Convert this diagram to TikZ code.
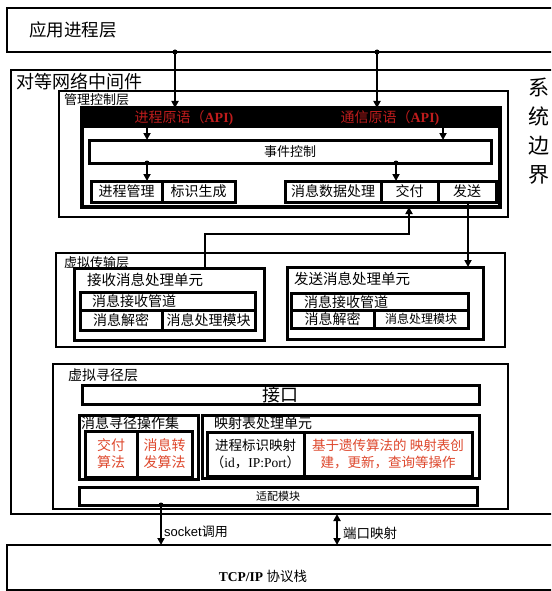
\documentclass[tikz,border=0pt]{standalone}
\usepackage{fontspec}
\setmainfont{Liberation Serif}
\newfontfamily\cjk{Noto Sans CJK SC}
\newfontfamily\lsans{Liberation Sans}
\usetikzlibrary{arrows.meta}
\definecolor{apired}{RGB}{190,28,28}
\definecolor{algred}{RGB}{222,72,45}
\newcommand\mybox[6][]{\node[bx,minimum width={#5-#3},minimum height={#6-#4},#1] (#2) at (#3,#4) {};}
\begin{document}
\begin{tikzpicture}[x=1pt,y=-1pt,
  bx/.style={draw,line width=3pt,anchor=north west,inner sep=0pt,outer sep=0pt},
  lay/.style={line width=2.5pt},
  outerbox/.style={line width=2.2pt},
  txt/.style={inner sep=0pt,font=\cjk\fontsize{14}{17}\selectfont},
  arr/.style={line width=2.1pt,-{Triangle[length=7pt,width=7pt]}},
  jdot/.style={circle,fill,inner sep=0pt,minimum size=5pt}]
\useasboundingbox (0,0) rectangle (551,591);
\clip (0,0) rectangle (551,591);
\fill[white] (0,0) rectangle (551,591);

% outer layers
\mybox[outerbox]{app}{7}{8}{580}{52}
\node[txt,anchor=west,font=\cjk\fontsize{17.5}{20}\selectfont] (tapp) at (29,30) {应用进程层};
\mybox[outerbox]{mw}{11}{70}{580}{514}
\node[txt,anchor=west,font=\cjk\fontsize{18}{20}\selectfont] (tmw) at (16,82) {对等网络中间件};
\node[txt,align=center,font=\cjk\fontsize{21}{29}\selectfont] (tsys) at (539,131) {系\\统\\边\\界};
\mybox[outerbox]{tcp}{7}{545}{580}{590}
\node[txt,font=\fontsize{13.5}{16}\selectfont] (ttcp) at (263,576) {\textbf{TCP/IP} {\cjk 协议栈}};

% management layer
\mybox[lay]{mg}{59}{91}{508}{217}
\node[txt,anchor=west,font=\cjk\fontsize{13}{15}\selectfont] (tmg) at (64,100) {管理控制层};
\mybox[line width=3.8pt]{frame}{82}{108}{500}{207}
\mybox[fill=black,line width=0.5pt]{hd}{82}{108}{500}{127}
\node[txt,text=apired] (tapi1) at (184,118) {进程原语（\textbf{\rmfamily API)}};
\node[txt,text=apired] (tapi2) at (390,118) {通信原语（\textbf{\rmfamily API)}};
\mybox{ev}{89}{140}{491}{163}
\node[txt,font=\cjk\fontsize{13}{15}\selectfont] (tev) at (ev) {事件控制};
\mybox{pm}{91}{181}{162}{202}
\node[txt] (tpm) at (pm) {进程管理};
\mybox{idg}{162}{181}{235}{202}
\node[txt] (tidg) at (idg) {标识生成};
\mybox{md}{285}{181}{381}{202}
\node[txt] (tmd) at (md) {消息数据处理};
\mybox{jf}{381}{181}{438}{202}
\node[txt] (tjf) at (jf) {交付};
\mybox{fs}{438}{181}{496}{202}
\node[txt] (tfs) at (fs) {发送};

% virtual transport layer
\mybox[lay]{tr}{56}{253}{505}{347}
\mybox{ru}{74}{268}{264}{340}
\node[txt,anchor=west,font=\cjk\fontsize{13}{15}\selectfont] (ttr) at (64,263) {虚拟传输层};
\node[txt,anchor=west,font=\cjk\fontsize{14.5}{16}\selectfont] (tru) at (87,280) {接收消息处理单元};
\mybox{r1}{80}{292}{255}{310}
\node[txt,anchor=west] (tr1) at (92,301) {消息接收管道};
\mybox{r2}{80}{310}{162}{330}
\node[txt] (tr2) at (r2) {消息解密};
\mybox{r3}{162}{310}{255}{330}
\node[txt] (tr3) at (r3) {消息处理模块};
\mybox{su}{287}{267}{483}{339}
\node[txt,anchor=west,font=\cjk\fontsize{14.5}{16}\selectfont] (tsu) at (294,279) {发送消息处理单元};
\mybox{s1}{291}{293}{468}{310}
\node[txt,anchor=west] (ts1) at (304,302) {消息接收管道};
\mybox{s2}{291}{310}{374}{328}
\node[txt] (ts2) at (s2) {消息解密};
\mybox{s3}{374}{310}{468}{328}
\node[txt,font=\cjk\fontsize{12}{14}\selectfont] (ts3) at (s3) {消息处理模块};

% virtual routing layer
\mybox[lay]{rt}{53}{364}{508}{509}
\node[txt,anchor=west] (trt) at (68,375) {虚拟寻径层};
\mybox{jk}{82}{385}{479}{404}
\node[txt,font=\cjk\fontsize{18}{20}\selectfont] (tjk) at (jk) {接口};
\mybox{ms}{79}{415}{198}{479}
\node[txt,anchor=west] (tms) at (81,423) {消息寻径操作集};
\mybox{m1}{85}{431}{137}{477}
\node[txt,align=center,text=algred] (tm1) at (m1) {交付\\算法};
\mybox{m2}{137}{431}{192}{477}
\node[txt,align=center,text=algred] (tm2) at (m2) {消息转\\发算法};
\mybox{mp}{202}{415}{479}{478}
\node[txt,anchor=west] (tmp) at (214,423) {映射表处理单元};
\mybox{p1}{207}{432}{304}{476}
\node[txt,align=center,font=\cjk\fontsize{13.5}{17}\selectfont] (tp1) at (p1) {进程标识映射\\（{\rmfamily id}，{\rmfamily IP:Port}）};
\mybox{p2}{304}{432}{472}{476}
\node[txt,align=center,text=algred,font=\cjk\fontsize{13.5}{17}\selectfont] (tp2) at (p2) {基于遗传算法的 映射表创\\建，更新，查询等操作};
\mybox{ad}{79}{487}{477}{505}
\node[txt,font=\cjk\fontsize{11}{13}\selectfont] (tad) at (ad) {适配模块};

% connectors
\coordinate (xa) at (175,0);
\coordinate (xb) at (377,0);
\coordinate (xc) at (147,0);
\coordinate (xd) at (443,0);
\coordinate (xe) at (396,0);
\coordinate (xf) at (468,0);
\coordinate (xg) at (205,0);
\coordinate (k1) at (409,234);
\coordinate (xs) at (161,0);
\coordinate (xp) at (337,0);
\draw[arr] (xa |- app.south) node[jdot] (d1) {} -- (xa |- hd.north);
\draw[arr] (xb |- app.south) node[jdot] (d2) {} -- (xb |- hd.north);
\draw[arr] (xc |- hd.south) -- (xc |- ev.north);
\draw[arr] (xd |- hd.south) -- (xd |- ev.north);
\draw[arr] (xc |- ev.south) node[jdot] (d3) {} -- (xc |- pm.north);
\draw[arr] (xe |- ev.south) node[jdot] (d4) {} -- (xe |- md.north);
\draw[arr] (xg |- ru.north) |- (k1) -- (k1 |- frame.south);
\draw[arr] (xf |- fs.south) -- (xf |- su.north);
\draw[arr] (xs |- ad.south) node[jdot] (d5) {} -- (xs |- tcp.north);
\draw[line width=2.1pt,{Triangle[length=7pt,width=7pt]}-{Triangle[length=7pt,width=7pt]}] (xp |- mw.south) -- (xp |- tcp.north);
\node[txt,anchor=west,font=\fontsize{13}{15}\selectfont] (tsock) at (164,532) {{\lsans socket}{\cjk 调用}};
\node[txt,anchor=west,font=\cjk\fontsize{13.5}{15}\selectfont] (tport) at (343,533) {端口映射};
\end{tikzpicture}
\end{document}
